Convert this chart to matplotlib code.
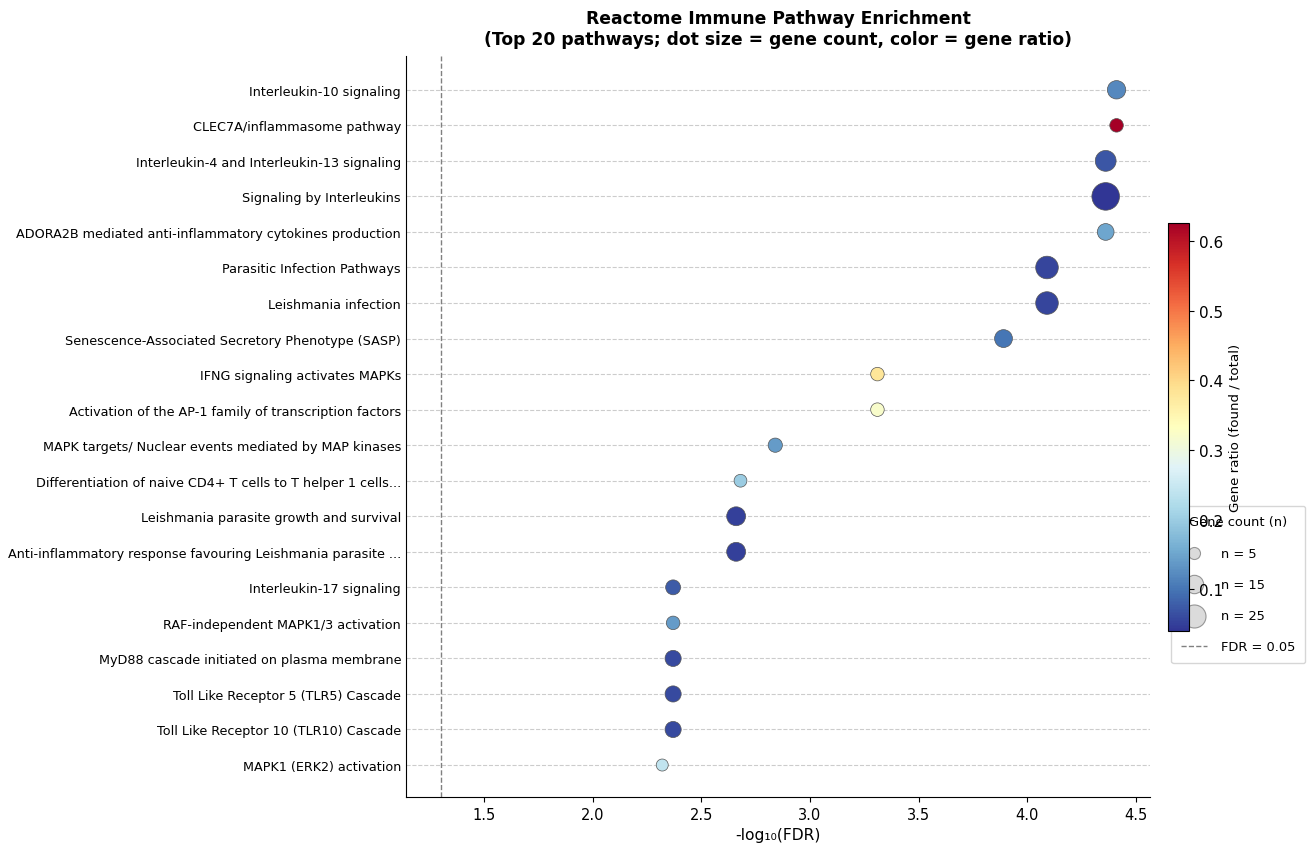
import numpy as np
import matplotlib
matplotlib.use("Agg")
import matplotlib.pyplot as plt
from matplotlib.lines import Line2D

pathways = [
    "Interleukin-10 signaling",
    "CLEC7A/inflammasome pathway",
    "Interleukin-4 and Interleukin-13 signaling",
    "Signaling by Interleukins",
    "ADORA2B mediated anti-inflammatory cytokines production",
    "Parasitic Infection Pathways",
    "Leishmania infection",
    "Senescence-Associated Secretory Phenotype (SASP)",
    "IFNG signaling activates MAPKs",
    "Activation of the AP-1 family of transcription factors",
    "MAPK targets/ Nuclear events mediated by MAP kinases",
    "Differentiation of naive CD4+ T cells to T helper 1 cells...",
    "Leishmania parasite growth and survival",
    "Anti-inflammatory response favouring Leishmania parasite ...",
    "Interleukin-17 signaling",
    "RAF-independent MAPK1/3 activation",
    "MyD88 cascade initiated on plasma membrane",
    "Toll Like Receptor 5 (TLR5) Cascade",
    "Toll Like Receptor 10 (TLR10) Cascade",
    "MAPK1 (ERK2) activation",
]
neglog_fdr = [4.41, 4.41, 4.36, 4.36, 4.36, 4.09, 4.09, 3.89, 3.31, 3.31,
              2.84, 2.68, 2.66, 2.66, 2.37, 2.37, 2.37, 2.37, 2.37, 2.32]
gene_count = [15, 7, 20, 37, 12, 24, 24, 14, 7, 7,
              8, 6, 16, 16, 9, 7, 11, 11, 11, 5]
gene_ratio = [0.12, 0.626, 0.07, 0.04, 0.15, 0.055, 0.055, 0.10, 0.38, 0.32,
              0.14, 0.20, 0.05, 0.05, 0.075, 0.14, 0.06, 0.06, 0.06, 0.24]
legend_counts = [5, 15, 25]
fdr_threshold = 0.05


def size_of(n):
    return 25 + 10 * np.asarray(n, dtype=float)


fig = plt.figure(figsize=(13.07, 8.45), dpi=100)
ax = fig.add_axes([0.3106, 0.0556, 0.5693, 0.8769])

y = np.arange(len(pathways))
sc = ax.scatter(neglog_fdr, y, s=size_of(gene_count), c=gene_ratio,
                cmap="RdYlBu_r", vmin=min(gene_ratio), vmax=max(gene_ratio),
                edgecolors="#555555", linewidths=0.5, zorder=3)
ax.axvline(-np.log10(fdr_threshold), color="gray", linestyle="--", linewidth=1, zorder=2)

ax.set_yticks(y)
ax.set_yticklabels(pathways, fontsize=9.15)
ax.tick_params(axis="y", length=0, pad=3.5)
ax.tick_params(axis="x", labelsize=10.5)
ax.set_ylim(len(pathways) - 0.1, -0.95)
ax.set_xlim(1.141, 4.564)
ax.set_xlabel("-log\u2081\u2080(FDR)", fontsize=11.2)
ax.set_title("Reactome Immune Pathway Enrichment\n(Top 20 pathways; dot size = gene count, color = gene ratio)",
             fontsize=12.3, fontweight="bold", pad=9)
ax.grid(axis="y", linestyle="--", color="#cccccc", linewidth=0.8, zorder=0)
ax.set_axisbelow(True)
ax.spines["top"].set_visible(False)
ax.spines["right"].set_visible(False)

handles = [ax.scatter([], [], s=size_of(n), color="lightgray", edgecolors="gray",
                      linewidths=0.8, alpha=0.8) for n in legend_counts]
labels = [f"n = {n}" for n in legend_counts]
handles.append(Line2D([0], [0], color="gray", linestyle="--", linewidth=1))
labels.append("FDR = 0.05")
ax.legend(handles, labels, title="Gene count (n)", loc="center left",
          bbox_to_anchor=(1.02, 0.287), fontsize=9.4, title_fontsize=9.4,
          labelspacing=1.4, handletextpad=1.05, borderpad=0.75, frameon=True)

cax = fig.add_axes([0.8937, 0.2521, 0.0161, 0.4828])
cb = fig.colorbar(sc, cax=cax)
cb.ax.tick_params(labelsize=11)
cb.set_label("Gene ratio (found / total)", fontsize=9.6)

fig.savefig("out.png", dpi=100)
